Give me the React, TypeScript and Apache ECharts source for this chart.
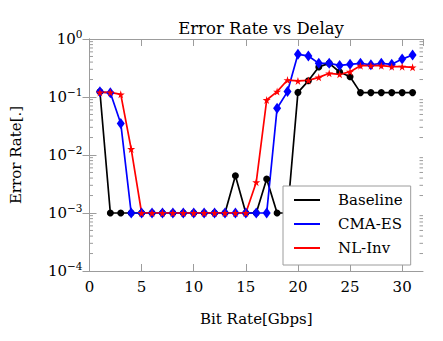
import React, { useEffect, useRef } from "react";
import * as echarts from "echarts";

const bitRates = [1,2,3,4,5,6,7,8,9,10,11,12,13,14,15,16,17,18,19,20,21,22,23,24,25,26,27,28,29,30,31];
const baseline = [0.123,1e-3,1e-3,1e-3,1e-3,1e-3,1e-3,1e-3,1e-3,1e-3,1e-3,1e-3,1e-3,0.0044,1e-3,1e-3,0.00385,1e-3,1e-3,0.12,0.19,0.33,0.38,0.27,0.224,0.119,0.119,0.119,0.119,0.119,0.119];
const cmaes = [0.123,0.118,0.035,1e-3,1e-3,1e-3,1e-3,1e-3,1e-3,1e-3,1e-3,1e-3,1e-3,1e-3,1e-3,1e-3,1e-3,0.0638,0.124,0.545,0.51,0.38,0.38,0.35,0.366,0.38,0.36,0.38,0.366,0.45,0.53];
const nlinv = [0.12,0.12,0.111,0.0127,1e-3,1e-3,1e-3,1e-3,1e-3,1e-3,1e-3,1e-3,1e-3,1e-3,1e-3,0.0034,0.0887,0.124,0.196,0.189,0.193,0.218,0.256,0.246,0.273,0.347,0.347,0.347,0.333,0.333,0.325];
const seriesNames = ["Baseline", "CMA-ES", "NL-Inv"];
const xTickLabels = ["0", "5", "10", "15", "20", "25", "30"];
const yDecades = [-4, -3, -2, -1, 0];

const FONT = "DejaVu Serif";
const AXIS_COLOR = "#9c9c9c";
const STAR = "path://M50,0 L61,35 L98,35 L68,57 L79,91 L50,70 L21,91 L32,57 L2,35 L39,35 Z";

export default function App() {
  const ref = useRef<HTMLDivElement>(null);
  useEffect(() => {
    if (!ref.current) return;
    const chart = echarts.init(ref.current, null, { renderer: "svg" });
    const minorTicks: number[][] = [];
    for (let d = yDecades[0]; d < yDecades[yDecades.length - 1]; d++) {
      for (let k = 2; k <= 9; k++) minorTicks.push([0, k * Math.pow(10, d)]);
    }
    const mk = (vals: number[]) => bitRates.map((x, i) => [x, vals[i]]);
    const lineSeries = (name: string, vals: number[], color: string, symbol: string, size: any) => ({
      name,
      type: "line",
      data: mk(vals),
      symbol,
      symbolSize: size,
      showAllSymbol: true,
      lineStyle: { color, width: 1.7 },
      itemStyle: { color },
      z: 3,
    });
    const yFmt = (v: number) => {
      const e = Math.round(Math.log10(v));
      return `{b|10}{s|${e === 0 ? "0" : "\u2212" + -e}}`;
    };
    chart.setOption({
      animation: false,
      backgroundColor: "#fff",
      title: {
        text: "Error Rate vs Delay",
        left: 256,
        top: 15,
        textAlign: "center",
        textStyle: { fontFamily: FONT, fontWeight: "normal", fontSize: 16.5, color: "#000" },
      },
      grid: { left: 89.5, right: 20, top: 39, bottom: 70 },
      legend: {
        data: seriesNames,
        orient: "vertical",
        left: 283,
        top: 186,
        icon: "rect",
        itemWidth: 26,
        itemHeight: 2,
        itemGap: 8,
        padding: [6, 8, 9, 11],
        borderColor: AXIS_COLOR,
        borderWidth: 1,
        backgroundColor: "#fff",
        textStyle: { fontFamily: FONT, fontSize: 15, color: "#000", padding: [0, 0, 0, 13], lineHeight: 16 },
      },
      xAxis: [
        {
          type: "value",
          min: 0,
          max: 32,
          interval: 5,
          name: "Bit Rate[Gbps]",
          nameLocation: "middle",
          nameGap: 40,
          nameTextStyle: { fontFamily: FONT, fontSize: 15, color: "#000" },
          axisLine: { lineStyle: { color: AXIS_COLOR, width: 1 } },
          axisTick: { inside: true, length: 7, lineStyle: { color: AXIS_COLOR } },
          axisLabel: {
            margin: 8,
            fontFamily: FONT,
            fontSize: 15,
            color: "#000",
            showMaxLabel: false,
            formatter: (v: number) => (v % 5 === 0 ? xTickLabels[v / 5] ?? "" : ""),
          },
          splitLine: { show: false },
        },
        {
          type: "value",
          position: "top",
          min: 0,
          max: 32,
          interval: 5,
          axisLine: { show: true, lineStyle: { color: AXIS_COLOR, width: 1 } },
          axisTick: { inside: true, length: 7, lineStyle: { color: AXIS_COLOR } },
          axisLabel: { show: false },
          splitLine: { show: false },
        },
      ],
      yAxis: [
        {
          type: "log",
          logBase: 10,
          min: 1e-4,
          max: 1,
          name: "Error Rate[.]",
          nameLocation: "middle",
          nameGap: 66,
          nameTextStyle: { fontFamily: FONT, fontSize: 15, color: "#000" },
          axisLine: { show: true, lineStyle: { color: AXIS_COLOR, width: 1 } },
          axisTick: { inside: true, length: 7, lineStyle: { color: AXIS_COLOR } },
          axisLabel: {
            margin: 7,
            formatter: yFmt,
            rich: {
              b: { fontFamily: FONT, fontSize: 15, color: "#000" },
              s: { fontFamily: FONT, fontSize: 10.5, color: "#000", padding: [0, 0, 10, 0] },
            },
          },
          splitLine: { show: false },
        },
        {
          type: "log",
          logBase: 10,
          min: 1e-4,
          max: 1,
          position: "right",
          axisLine: { show: true, lineStyle: { color: AXIS_COLOR, width: 1 } },
          axisTick: { inside: true, length: 7, lineStyle: { color: AXIS_COLOR } },
          axisLabel: { show: false },
          splitLine: { show: false },
        },
      ],
      series: [
        {
          type: "custom",
          silent: true,
          data: minorTicks,
          z: 1,
          renderItem: (params: any, api: any) => {
            const p = api.coord([api.value(0), api.value(1)]);
            const cs = params.coordSys;
            const st = { stroke: AXIS_COLOR, lineWidth: 1 };
            return {
              type: "group",
              children: [
                { type: "line", shape: { x1: cs.x, y1: p[1], x2: cs.x + 3.5, y2: p[1] }, style: st },
                { type: "line", shape: { x1: cs.x + cs.width, y1: p[1], x2: cs.x + cs.width - 3.5, y2: p[1] }, style: st },
              ],
            };
          },
        },
        lineSeries("Baseline", baseline, "#000000", "circle", 7),
        lineSeries("CMA-ES", cmaes, "#0000ff", "diamond", [8, 11]),
        lineSeries("NL-Inv", nlinv, "#ff0000", STAR, 8),
      ],
    });
    return () => chart.dispose();
  }, []);
  return <div ref={ref} style={{ width: 443, height: 341, position: "absolute", left: 0, top: 0 }} />;
}
